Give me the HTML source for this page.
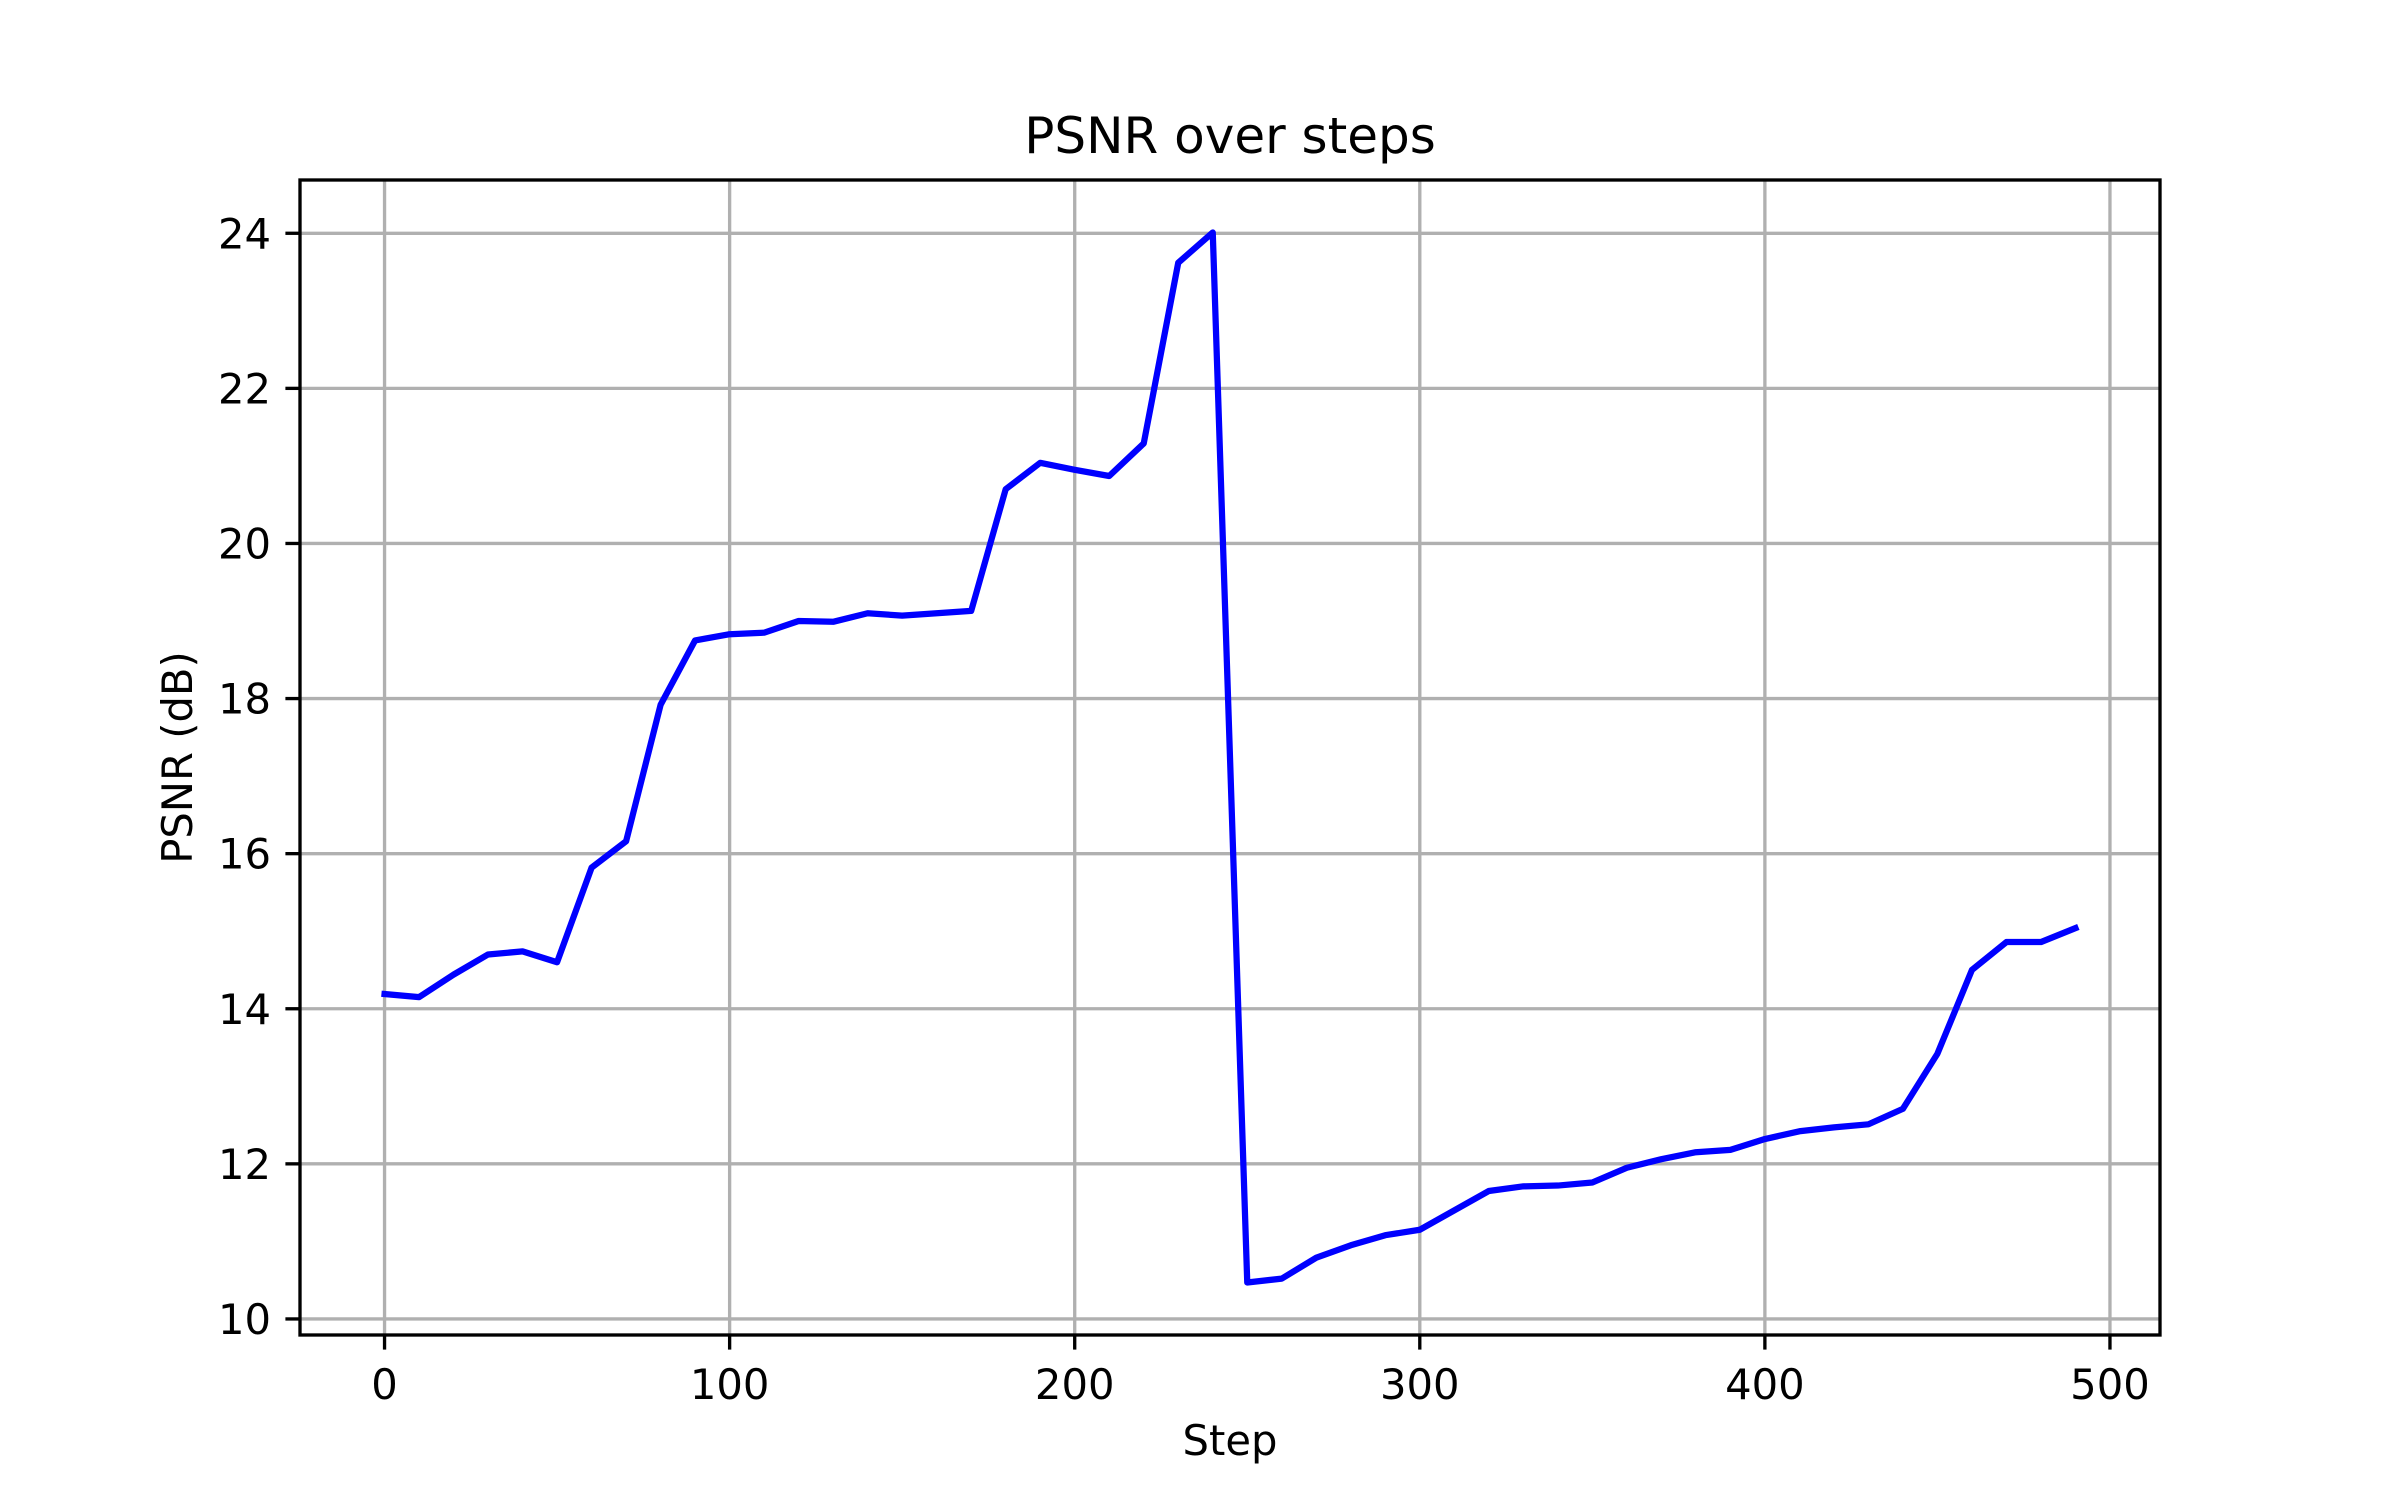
<!DOCTYPE html>
<html><head><meta charset="utf-8"><style>
html,body{margin:0;padding:0;background:#fff;}
svg{display:block;font-family:"DejaVu Sans","Liberation Sans",sans-serif;}
</style></head><body>
<svg id="chart" width="2400" height="1500" viewBox="0 0 2400 1500" xmlns="http://www.w3.org/2000/svg">
<rect x="0" y="0" width="2400" height="1500" fill="#fff"/>
</svg>
<script>
const steps = [0,10,20,30,40,50,60,70,80,90,100,110,120,130,140,150,160,170,180,190,200,210,220,230,240,250,260,270,280,290,300,310,320,330,340,350,360,370,380,390,400,410,420,430,440,450,460,470,480,490];
const psnr = [14.19,14.15,14.44,14.70,14.74,14.60,15.82,16.16,17.92,18.75,18.83,18.85,19.00,18.99,19.10,19.07,19.10,19.13,20.70,21.04,20.95,20.87,21.29,23.62,24.01,10.47,10.52,10.79,10.95,11.08,11.15,11.40,11.65,11.71,11.72,11.76,11.95,12.06,12.15,12.18,12.32,12.42,12.47,12.51,12.71,13.42,14.50,14.86,14.86,15.04];
const xTicks = [0,100,200,300,400,500];
const yTicks = [10,12,14,16,18,20,22,24];

const svg = document.getElementById('chart');
const NS = 'http://www.w3.org/2000/svg';
const L=300,R=2160,T=180,B=1335;
const xmin0=Math.min(...steps), xmax0=Math.max(...steps);
const ymin0=Math.min(...psnr), ymax0=Math.max(...psnr);
const xm=(xmax0-xmin0)*0.05, ym=(ymax0-ymin0)*0.05;
const xlo=xmin0-xm, xhi=xmax0+xm, ylo=ymin0-ym, yhi=ymax0+ym;
function sx(v){return L+(v-xlo)/(xhi-xlo)*(R-L);}
function sy(v){return B-(v-ylo)/(yhi-ylo)*(B-T);}
function mk(tag,attrs,text){const e=document.createElementNS(NS,tag);for(const k in attrs)e.setAttribute(k,attrs[k]);if(text!==undefined)e.textContent=text;svg.appendChild(e);return e;}

xTicks.forEach(v=>{
  const x=sx(v);
  const g=mk('line',{x1:x,x2:x,y1:T,y2:B,stroke:'#b0b0b0','stroke-width':3.33});
  
  
  const t=mk('line',{x1:x,x2:x,y1:B,y2:B+14.6,stroke:'#000','stroke-width':3.33});
  
  
  const l=mk('text',{x:x,y:B+64,'font-size':41.7,'text-anchor':'middle',fill:'#000'},String(v));
  
  
});
yTicks.forEach(v=>{
  const y=sy(v);
  const g=mk('line',{x1:L,x2:R,y1:y,y2:y,stroke:'#b0b0b0','stroke-width':3.33});
  
  
  const t=mk('line',{x1:L-14.6,x2:L,y1:y,y2:y,stroke:'#000','stroke-width':3.33});
  
  
  const l=mk('text',{x:L-29,y:y+15,'font-size':41.7,'text-anchor':'end',fill:'#000'},String(v));
  
  
});
const pts=steps.map((s,i)=>sx(s).toFixed(2)+','+sy(psnr[i]).toFixed(2)).join(' ');
const line=mk('polyline',{points:pts,fill:'none',stroke:'#0000ff','stroke-width':6.25,'stroke-linejoin':'round','stroke-linecap':'square'});


const frame=mk('rect',{x:L,y:T,width:R-L,height:B-T,fill:'none',stroke:'#000','stroke-width':3.33});


const title=mk('text',{x:(L+R)/2,y:153,'font-size':50,'text-anchor':'middle',fill:'#000'},'PSNR over steps');


const xl=mk('text',{x:(L+R)/2,y:1455,'font-size':41.7,'text-anchor':'middle',fill:'#000'},'Step');


const yl=mk('text',{x:0,y:0,'font-size':41.7,'text-anchor':'middle',fill:'#000',transform:'translate(192,'+((T+B)/2)+') rotate(-90)'},'PSNR (dB)');


</script>
</body></html>
